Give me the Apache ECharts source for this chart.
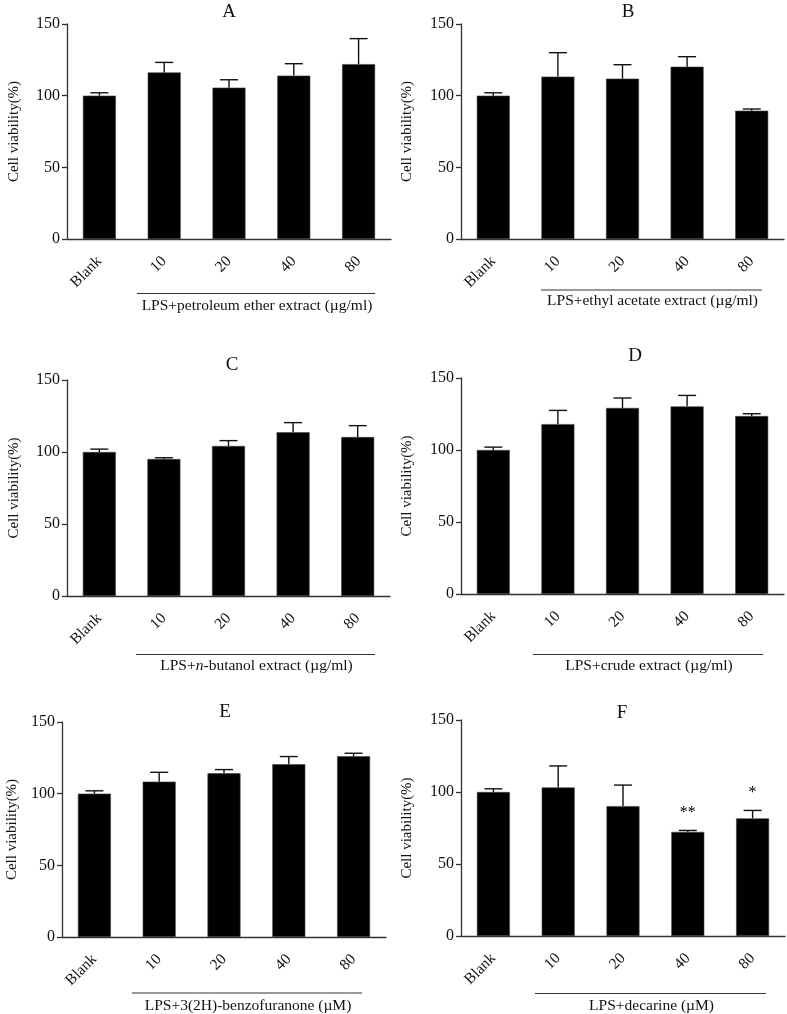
<!DOCTYPE html>
<html>
<head>
<meta charset="utf-8">
<script src="https://cdn.jsdelivr.net/npm/echarts@6/dist/echarts.min.js"></script>
<style>
html,body{margin:0;padding:0;background:#fff;}
#main{width:787px;height:1014px;}
</style>
</head>
<body>
<div id="main"></div>
<script>
const categories = ['Blank', '10', '20', '40', '80'];
const yTicks = [0, 50, 100, 150];

const meanA = [100, 116.2, 105.6, 114, 122];
const errA  = [2, 7, 5.5, 8.3, 17.8];
const meanB = [100, 113.3, 111.9, 120.2, 89.5];
const errB  = [2, 16.7, 9.7, 7, 1.2];
const meanC = [100, 95.1, 104.2, 113.7, 110.4];
const errC  = [2, 0.9, 3.7, 6.7, 7.9];
const meanD = [100, 118, 129.2, 130.3, 123.6];
const errD  = [2, 9.5, 6.9, 7.6, 1.6];
const meanE = [100, 108.4, 114.2, 120.5, 126.1];
const errE  = [2, 6.5, 2.6, 5.4, 2.1];
const meanF = [100, 103.2, 90.2, 72.3, 81.7];
const errF  = [2.2, 14.9, 14.6, 1, 5.5];
const sigF  = ['', '', '', '**', '*'];

const panelTitles = ['A', 'B', 'C', 'D', 'E', 'F'];
const groupLabels = [
  'LPS+petroleum ether extract (\u00b5g/ml)',
  'LPS+ethyl acetate extract (\u00b5g/ml)',
  'LPS+{i|n}-butanol extract (\u00b5g/ml)',
  'LPS+crude extract (\u00b5g/ml)',
  'LPS+3(2H)-benzofuranone (\u00b5M)',
  'LPS+decarine (\u00b5M)'
];
const yName = 'Cell viability(%)';

const FONT = "'Liberation Serif', 'Times New Roman', serif";
const TXT = '#111';
const AX = '#333';

const means = [meanA, meanB, meanC, meanD, meanE, meanF];
const errs = [errA, errB, errC, errD, errE, errF];
const sigs = [null, null, null, null, null, sigF];

// layout: plot areas [left, top, right, bottom]
const boxes = [
  [67, 24, 391, 239],
  [461, 24, 784, 239],
  [67, 380, 390, 596],
  [461, 378, 784, 594],
  [62, 722, 386, 937],
  [461, 720, 785, 936]
];
const titlePos = [[229, 12], [628, 12], [232, 365], [635, 356], [225, 712], [622, 713]];
const underlines = [
  [137, 375, 293.5, 306],
  [541, 762, 290, 301],
  [136, 375, 654.5, 666],
  [533, 763, 654.5, 666],
  [132, 362, 993, 1006],
  [535, 766, 993.5, 1006]
];
const nameGaps = [45, 46, 45, 46, 42, 46];

const grids = [], xAxes = [], yAxes = [], series = [], graphics = [];

boxes.forEach((b, i) => {
  grids.push({left: b[0], top: b[1], width: b[2] - b[0], height: b[3] - b[1], containLabel: false});
  xAxes.push({
    type: 'category', gridIndex: i, data: categories,
    axisLine: {lineStyle: {color: AX, width: 1.3}},
    axisTick: {alignWithLabel: true, length: 6, lineStyle: {color: AX, width: 1.3}},
    axisLabel: {rotate: 45, margin: 20, color: TXT, fontFamily: FONT, fontSize: 15.5, interval: 0}
  });
  yAxes.push({
    type: 'value', gridIndex: i, min: yTicks[0], max: yTicks[yTicks.length - 1], interval: 50,
    name: yName, nameLocation: 'middle', nameGap: nameGaps[i],
    nameTextStyle: {color: TXT, fontFamily: FONT, fontSize: 15},
    axisLine: {show: true, lineStyle: {color: AX, width: 1.3}},
    axisTick: {show: true, length: 5, lineStyle: {color: AX, width: 1.3}},
    axisLabel: {margin: 7, color: TXT, fontFamily: FONT, fontSize: 16},
    splitLine: {show: false}
  });
  series.push({
    type: 'bar', xAxisIndex: i, yAxisIndex: i, data: means[i], barWidth: 33,
    itemStyle: {color: '#000', borderColor: '#444', borderWidth: 0.6},
    silent: true, animation: false
  });
  const sg = sigs[i];
  series.push({
    type: 'custom', xAxisIndex: i, yAxisIndex: i, animation: false, silent: true, z: 3,
    data: categories.map((c, k) => [k, means[i][k], errs[i][k]]),
    renderItem: function (params, api) {
      const k = api.value(0), m = api.value(1), e = api.value(2);
      const base = api.coord([k, m]);
      const top = api.coord([k, m + e]);
      const half = 9;
      const children = [
        {type: 'line', shape: {x1: base[0], y1: base[1], x2: top[0], y2: top[1]}, style: {stroke: '#111', lineWidth: 1.4}},
        {type: 'line', shape: {x1: top[0] - half, y1: top[1], x2: top[0] + half, y2: top[1]}, style: {stroke: '#111', lineWidth: 1.4}}
      ];
      if (sg && sg[params.dataIndex]) {
        children.push({type: 'text', style: {text: sg[params.dataIndex], x: top[0], y: top[1] - 18,
          align: 'center', verticalAlign: 'middle', fill: '#000', font: '16px ' + FONT}});
      }
      return {type: 'group', children: children};
    }
  });
  graphics.push({type: 'text', x: titlePos[i][0], y: titlePos[i][1],
    style: {text: panelTitles[i], fill: TXT, font: '19px ' + FONT, align: 'center', verticalAlign: 'middle'}});
  const u = underlines[i];
  graphics.push({type: 'line', shape: {x1: u[0], y1: u[2], x2: u[1], y2: u[2]}, style: {stroke: '#333', lineWidth: 1}});
  graphics.push({type: 'text', x: (u[0] + u[1]) / 2 + 1, y: u[3],
    style: {text: groupLabels[i], fill: TXT, font: '15.5px ' + FONT, align: 'center', verticalAlign: 'middle',
      rich: {i: {fontStyle: 'italic', fontFamily: FONT, fontSize: 15.5, fill: TXT}}}});
});

const chart = echarts.init(document.getElementById('main'), null, {renderer: 'canvas'});
chart.setOption({
  backgroundColor: '#fff',
  animation: false,
  grid: grids, xAxis: xAxes, yAxis: yAxes, series: series,
  graphic: graphics
});
</script>
</body>
</html>
